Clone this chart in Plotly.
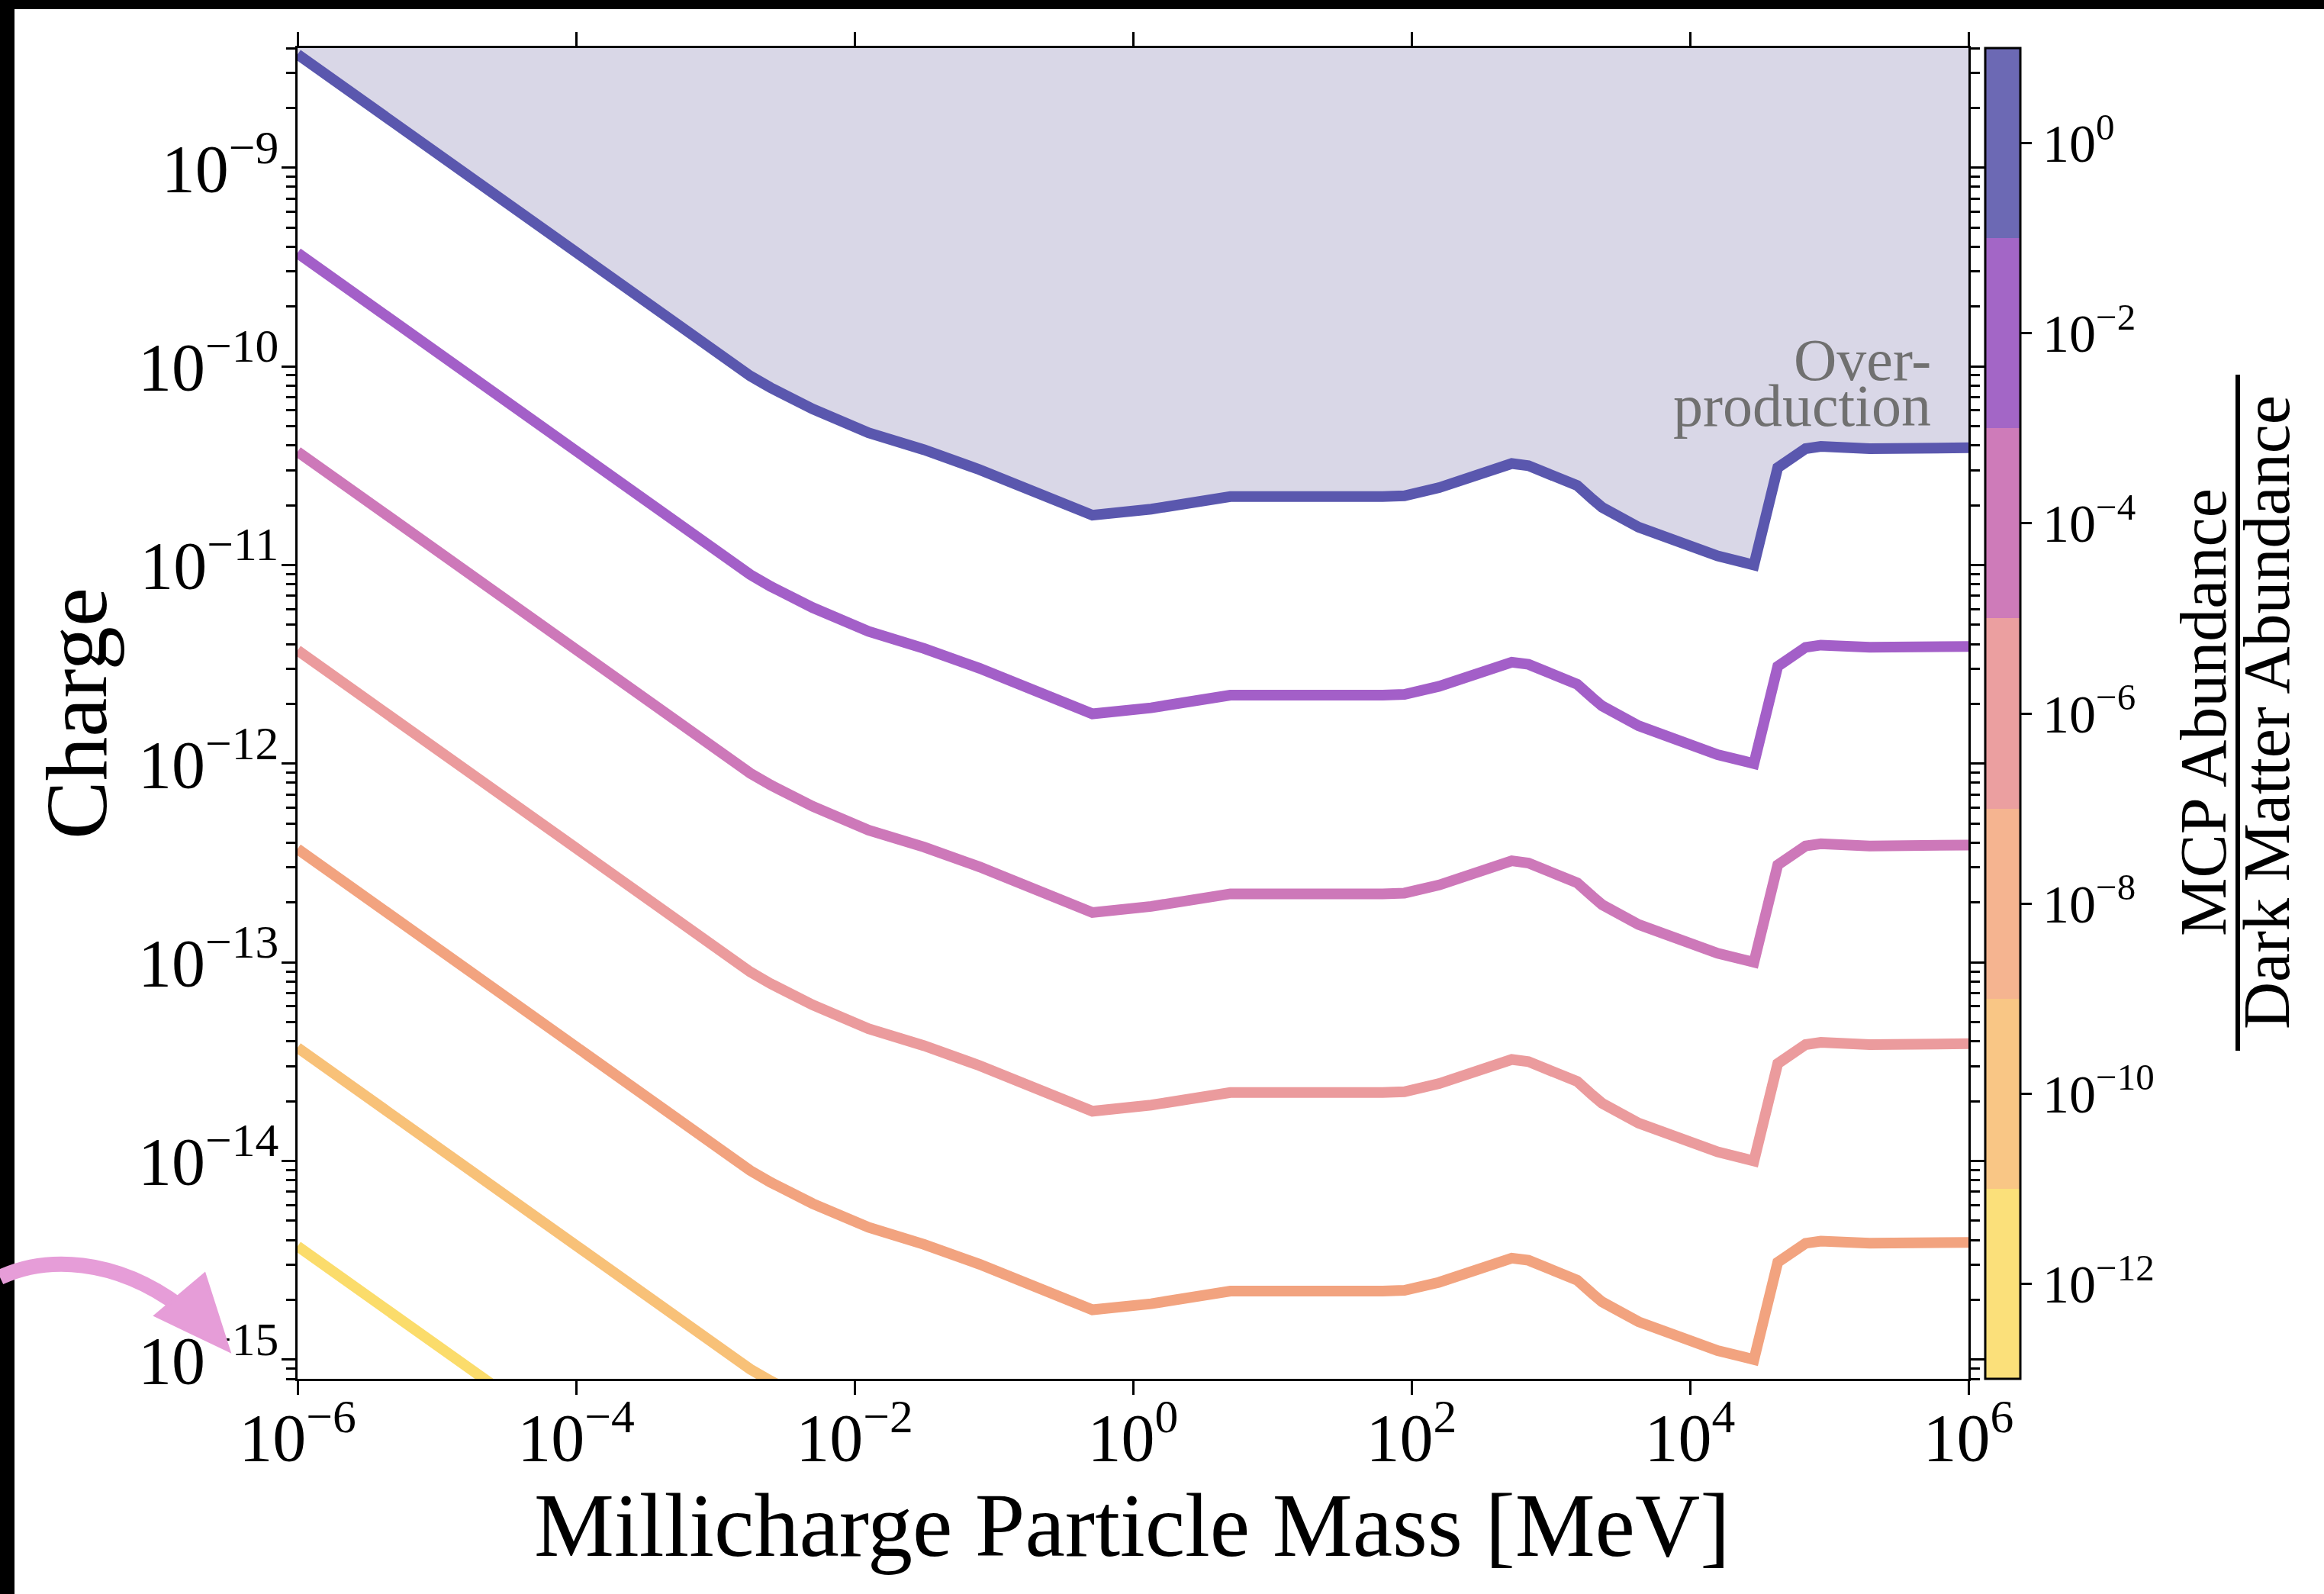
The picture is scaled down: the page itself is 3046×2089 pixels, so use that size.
import numpy as np
import plotly.graph_objects as go

# ---- data -------------------------------------------------------------
# millicharged particle mass [MeV]
mass_mev = [1e-6, 1e-5, 1e-4, 1e-3, 1.26e-3, 1.78e-3, 2.5e-3, 3.55e-3,
            5.0e-3, 1.26e-2, 3.16e-2, 7.9e-2, 0.2, 0.511, 1.35, 2.5, 5.0,
            62, 89, 158, 251, 398, 525, 692, 1000, 1550, 2000, 2340, 4270,
            9550, 15800, 28800, 42700, 67600, 87100, 195000, 1e6]

# charge giving an MCP abundance equal to the dark matter abundance
charge_unit = [3.72e-9, 1.175e-9, 3.72e-10, 1.175e-10, 1.05e-10, 8.95e-11,
               7.8e-11, 6.85e-11, 6.10e-11, 4.63e-11, 3.80e-11, 3.02e-11,
               2.29e-11, 1.78e-11, 1.91e-11, 2.04e-11, 2.21e-11, 2.21e-11,
               2.23e-11, 2.45e-11, 2.72e-11, 3.09e-11, 3.24e-11, 3.16e-11,
               2.82e-11, 2.51e-11, 2.14e-11, 1.95e-11, 1.55e-11, 1.26e-11,
               1.11e-11, 1.00e-11, 3.09e-11, 3.85e-11, 3.95e-11, 3.85e-11,
               3.89e-11]

# abundance ratios (MCP / dark matter) of the contours
abundance_levels = [1e0, 1e-2, 1e-4, 1e-6, 1e-8, 1e-10, 1e-12]
line_colors = ["#5a57ae", "#a35fc8", "#cd78b9", "#eb9b9d",
               "#f2a37f", "#f8c178", "#fbdc6b"]
band_colors = ["#fbe07a", "#f9c685", "#f5b490", "#eb9fa0",
               "#ce7bb9", "#a366c6", "#6c69b4"]          # bottom -> top

x_tick_exp = [-6, -4, -2, 0, 2, 4, 6]
y_tick_exp = [-9, -10, -11, -12, -13, -14, -15]
cb_tick_exp = [0, -2, -4, -6, -8, -10, -12]

Y_MIN, Y_MAX = 8.0e-16, 4.0e-9
X_MIN, X_MAX = 1e-6, 1e6

# ---- page geometry (pixels) ------------------------------------------
W, H = 3046, 2089
L, R, T, B = 390, 2580, 63, 1807
FONT = "Liberation Serif"


def px(x):
    return (x - L) / (R - L)


def py(y):
    return (B - y) / (B - T)


def sup(e):
    s = str(e).replace("-", "\u2212")
    return f"10<sup>{s}</sup>"


fig = go.Figure()

mass = np.array(mass_mev)
base = np.array(charge_unit)

# over-production region above the unit-abundance contour
fig.add_trace(go.Scatter(
    x=list(mass) + [X_MAX * 10, X_MIN / 10],
    y=list(base) + [Y_MAX * 100, Y_MAX * 100],
    fill="toself", fillcolor="#d9d7e7", mode="lines",
    line=dict(width=0), hoverinfo="skip"))

for lvl, col in zip(abundance_levels, line_colors):
    fig.add_trace(go.Scatter(
        x=mass, y=base * np.sqrt(lvl), mode="lines",
        line=dict(color=col, width=14)))

# colorbar for the abundance ratio
n = len(band_colors)
cscale = []
for i, c in enumerate(band_colors):
    cscale.append([i / n, c])
    cscale.append([(i + 1) / n, c])
fig.add_trace(go.Scatter(
    x=[X_MIN], y=[1e-20], mode="markers", hoverinfo="skip",
    marker=dict(size=1, color=[-6], colorscale=cscale, cmin=-13, cmax=1,
                showscale=True,
                colorbar=dict(
                    thickness=46, thicknessmode="pixels",
                    len=B - T, lenmode="pixels",
                    x=px(2602), xanchor="left", y=0.5, yanchor="middle",
                    xpad=0, ypad=0, outlinewidth=3, outlinecolor="black",
                    ticks="outside", ticklen=14, tickwidth=2.5,
                    tickcolor="black",
                    tickvals=cb_tick_exp,
                    ticktext=[sup(e) for e in cb_tick_exp],
                    tickfont=dict(family=FONT, size=70, color="black")))))

# minor ticks on the charge axis
minor_y = [k * 10.0 ** d for d in range(-16, -7) for k in range(2, 10)]

fig.update_xaxes(
    type="log", range=[np.log10(X_MIN), np.log10(X_MAX)],
    showgrid=False, zeroline=False, showline=True, linewidth=3,
    linecolor="black", mirror="ticks", ticks="outside", ticklen=18,
    tickwidth=2.5, tickcolor="black", ticklabelstandoff=-20,
    tickvals=[10.0 ** e for e in x_tick_exp],
    ticktext=[sup(e) for e in x_tick_exp],
    tickfont=dict(family=FONT, size=88, color="black"))
fig.update_yaxes(
    type="log", range=[np.log10(Y_MIN), np.log10(Y_MAX)],
    showgrid=False, zeroline=False, showline=True, linewidth=3,
    linecolor="black", mirror="ticks", ticks="outside", ticklen=18,
    tickwidth=2.5, tickcolor="black", ticklabelstandoff=-14,
    tickvals=[10.0 ** e for e in y_tick_exp],
    ticktext=[sup(e) for e in y_tick_exp],
    tickfont=dict(family=FONT, size=88, color="black"),
    minor=dict(tickmode="array", tickvals=minor_y, ticks="outside",
               ticklen=12, tickwidth=2.5, tickcolor="black"))

annotations = [
    dict(text="Millicharge Particle Mass [MeV]", x=px(1483), y=py(1999),
         font=dict(size=118)),
    dict(text="Charge", x=px(100), y=py(935), textangle=-90,
         font=dict(size=115)),
    dict(text="Over-", x=px(2532), y=py(471), xanchor="right",
         font=dict(size=78, color="#707070")),
    dict(text="production", x=px(2532), y=py(531), xanchor="right",
         font=dict(size=78, color="#707070")),
    dict(text="MCP Abundance", x=px(2888), y=py(934), textangle=-90,
         font=dict(size=86)),
    dict(text="Dark Matter Abundance", x=px(2971), y=py(934), textangle=-90,
         font=dict(size=86)),
]
for a in annotations:
    a.setdefault("xanchor", "center")
    a.update(xref="paper", yref="paper", yanchor="middle", showarrow=False,
             borderpad=0)
    a["font"].setdefault("color", "black")
    a["font"]["family"] = FONT
fig.update_layout(annotations=annotations)


def path(points, close=False):
    s = "M " + " L ".join(f"{px(x):.5f},{py(y):.5f}" for x, y in points)
    return s + (" Z" if close else "")


def cubic(p0, c1, c2, p1):
    return (f"M {px(p0[0]):.5f},{py(p0[1]):.5f} "
            f"C {px(c1[0]):.5f},{py(c1[1]):.5f} "
            f"{px(c2[0]):.5f},{py(c2[1]):.5f} "
            f"{px(p1[0]):.5f},{py(p1[1]):.5f}")


shapes = [
    # fraction bar of the colorbar label
    dict(type="line", x0=px(2933), x1=px(2933), y0=py(491), y1=py(1377),
         line=dict(color="black", width=6)),
    # frame strips
    dict(type="rect", x0=px(0), x1=px(19), y0=py(0), y1=py(H),
         fillcolor="black", line=dict(width=0)),
    dict(type="rect", x0=px(0), x1=px(W), y0=py(0), y1=py(12),
         fillcolor="black", line=dict(width=0)),
    # pink pointer to the lowest charge label
    dict(type="path", path=cubic((0, 1674), (60, 1646), (150, 1648),
                                 (236, 1712)),
         line=dict(color="#e69dd8", width=20)),
    dict(type="path", path=path([(268, 1670), (204, 1724), (300, 1770)],
                                close=True),
         fillcolor="#e69dd8", line=dict(color="#e69dd8", width=4)),
]
for s in shapes:
    s.update(xref="paper", yref="paper", layer="above")
fig.update_layout(shapes=shapes)

fig.update_layout(
    width=W, height=H, margin=dict(l=L, r=W - R, t=T, b=H - B),
    paper_bgcolor="white", plot_bgcolor="white", showlegend=False,
    font=dict(family=FONT, color="black"))

fig.write_html("out.html")
